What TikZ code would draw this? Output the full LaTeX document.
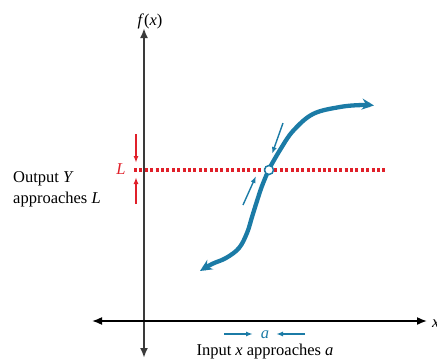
\documentclass[tikz,border=0pt]{standalone}
\usepackage{fontspec}
\setmainfont{Liberation Serif}
\usetikzlibrary{arrows.meta}
\definecolor{cblue}{HTML}{1B7BA6}
\definecolor{cred}{HTML}{E0202A}
\definecolor{caxis}{HTML}{3A3A3A}
\tikzset{
  axisline/.style={line width=2pt, -{Latex[length=10pt,width=8pt]}},
  limitline/.style={cred, line width=3.3pt, dash pattern=on 3pt off 2.4pt},
  curveline/.style={cblue, line width=4.3pt, line cap=round},
  smallblue/.style={cblue, line width=1.4pt, -{Latex[length=7pt,width=5pt]}},
  smallred/.style={cred, line width=1.4pt, -{Latex[length=7pt,width=5pt]}},
  lbl/.style={font=\fontsize{16.5}{19}\selectfont, inner sep=0pt}
}
\begin{document}
\begin{tikzpicture}[x=1pt,y=-1pt]
\useasboundingbox (0,0) rectangle (437,364);
% axes
\coordinate (yb) at (144,358);
\coordinate (yt) at (144,28);
\coordinate (xl) at (92,321);
\coordinate (xr) at (427,321);
\coordinate (o) at (144,321);
\draw[axisline, caxis] (o) -- (yt);
\draw[axisline, caxis] (o) -- (yb);
\draw[axisline, black, line width=1.6pt] (o) -- (xr);
\draw[axisline, black, line width=1.6pt] (o) -- (xl);
\node[lbl, anchor=base] (fx) at (150,25) {\textit{f}(\textit{x})};
\node[lbl, anchor=base west] (xlab) at (432,327) {\textit{x}};
% limit line
\coordinate (Ll) at (134,170);
\coordinate (Lr) at (386,170);
\draw[limitline] (Ll) -- (Lr);
\node[lbl, cred, anchor=base] (Llab) at (121,174) {\textit{L}};
\coordinate (r1s) at (136,134);
\coordinate (r1e) at (136,163);
\coordinate (r2s) at (136,204);
\coordinate (r2e) at (136,177);
\draw[smallred] (r1s) -- (r1e);
\draw[smallred] (r2s) -- (r2e);
% curve
\draw[curveline, -{Stealth[length=12pt,width=11pt]}] plot[smooth, tension=0.6] coordinates {(269,169) (280,150) (293,131) (313,114) (340,107) (362,105) (374,105.5)};
\draw[curveline, -{Stealth[length=12pt,width=11pt]}] plot[smooth, tension=0.6] coordinates {(269,169) (262,186) (257,201) (252,217) (247,233) (239,248) (226,258) (212,264) (200,271)};
\node[circle, draw=cblue, fill=white, line width=1.5pt, minimum size=9pt, inner sep=0pt] (hole) at (269,170) {};
% approach arrows
\coordinate (a1s) at (283,123);
\coordinate (a1e) at (272,154);
\coordinate (a2s) at (243,205);
\coordinate (a2e) at (256,176);
\draw[smallblue] (a1s) -- (a1e);
\draw[smallblue] (a2s) -- (a2e);
% bottom a
\node[lbl, cblue, anchor=base] (alab) at (265,338) {\textit{a}};
\coordinate (b1s) at (224,334);
\coordinate (b1e) at (253,334);
\coordinate (b2s) at (305,334);
\coordinate (b2e) at (276,334);
\draw[smallblue] (b1s) -- (b1e);
\draw[smallblue] (b2s) -- (b2e);
\node[lbl, anchor=base] (inp) at (265,355) {Input \textit{x} approaches \textit{a}};
\node[lbl, anchor=base west] (out1) at (13,182) {Output \textit{Y}};
\node[lbl, anchor=base west] (out2) at (13,203) {approaches \textit{L}};
\end{tikzpicture}
\end{document}
